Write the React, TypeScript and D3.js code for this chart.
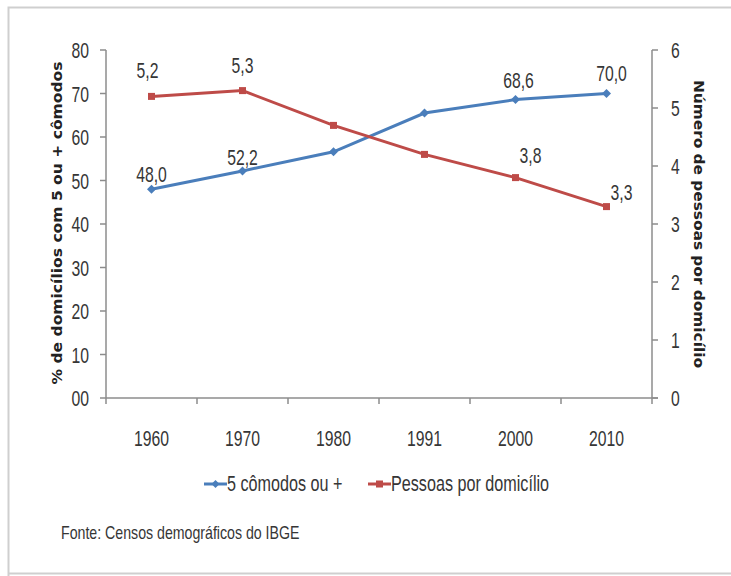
import React from "react";
import * as d3 from "d3";

const years = ["1960", "1970", "1980", "1991", "2000", "2010"];
const comodos = [48.0, 52.2, 56.6, 65.5, 68.6, 70.0];
const pessoas = [5.2, 5.3, 4.7, 4.2, 3.8, 3.3];
const comodosLabels = ["48,0", "52,2", "", "", "68,6", "70,0"];
const pessoasLabels = ["5,2", "5,3", "", "", "3,8", "3,3"];
const leftTicks = [0, 10, 20, 30, 40, 50, 60, 70, 80];
const leftTickText = ["00", "10", "20", "30", "40", "50", "60", "70", "80"];
const rightTicks = [0, 1, 2, 3, 4, 5, 6];

const W = 731;
const H = 576;
const FONT = "'Liberation Sans', Arial, sans-serif";
const TITLE_FONT = "'DejaVu Sans', Verdana, sans-serif";
const BLUE = "#4a7ebb";
const RED = "#be4b48";
const AXIS = "#8c8c8c";
const INK = "#363636";

// label placement relative to each point (dx, dy)
const comodosOffsets: [number, number][] = [
  [0, -7], [0, -6], [0, 0], [0, 0], [3, -12], [5, -13],
];
const pessoasOffsets: [number, number][] = [
  [-4, -18], [0, -18], [0, 0], [0, 0], [15, -15], [15, -7],
];

type TProps = {
  x: number;
  y: number;
  size?: number;
  sx?: number;
  anchor?: "start" | "middle" | "end";
  children: React.ReactNode;
};

// condensed text: horizontal squeeze around the anchor point
function T({ x, y, size = 22.5, sx = 0.7, anchor = "middle", children }: TProps) {
  return (
    <text
      transform={`translate(${x},${y}) scale(${sx},1)`}
      textAnchor={anchor}
      fontSize={size}
      fill={INK}
      fontFamily={FONT}
    >
      {children}
    </text>
  );
}

export default function App() {
  const x = d3.scaleBand<string>().domain(years).range([106, 652]);
  const yL = d3.scaleLinear().domain([0, 80]).range([398, 50]);
  const yR = d3.scaleLinear().domain([0, 6]).range([398, 50]);
  const cx = (y: string) => (x(y) as number) + x.bandwidth() / 2;

  const lineL = d3
    .line<number>()
    .x((_, i) => cx(years[i]))
    .y((d) => yL(d));
  const lineR = d3
    .line<number>()
    .x((_, i) => cx(years[i]))
    .y((d) => yR(d));

  const boundaries = [...years.map((y) => x(y) as number), 652];

  return (
    <svg
      width={W}
      height={H}
      style={{ position: "absolute", left: 0, top: 0 }}
    >
      <rect x={0} y={0} width={W} height={H} fill="#fff" />
      {/* outer frame */}
      <path d={`M8.5,${H} V7.5 H${W}`} fill="none" stroke="#cfcfcf" strokeWidth={2} />
      <line x1={8} x2={W} y1={573.5} y2={573.5} stroke="#cfcfcf" strokeWidth={2} />

      {/* left axis */}
      <line x1={106} x2={106} y1={50} y2={398} stroke={AXIS} strokeWidth={1.5} />
      {leftTicks.map((t, i) => (
        <g key={t}>
          <line x1={100} x2={106} y1={yL(t)} y2={yL(t)} stroke={AXIS} strokeWidth={1.5} />
          <T x={89} y={yL(t) + 8} anchor="end">
            {leftTickText[i]}
          </T>
        </g>
      ))}

      {/* right axis */}
      <line x1={652} x2={652} y1={50} y2={398} stroke={AXIS} strokeWidth={1.5} />
      {rightTicks.map((t) => (
        <g key={t}>
          <line x1={652} x2={658} y1={yR(t)} y2={yR(t)} stroke={AXIS} strokeWidth={1.5} />
          <T x={671} y={yR(t) + 8} anchor="start">
            {t}
          </T>
        </g>
      ))}

      {/* category axis */}
      <line x1={106} x2={658} y1={398} y2={398} stroke={AXIS} strokeWidth={1.5} />
      {boundaries.map((b, i) => (
        <line key={i} x1={b} x2={b} y1={398} y2={404} stroke={AXIS} strokeWidth={1.5} />
      ))}
      {years.map((y) => (
        <T key={y} x={cx(y)} y={446}>
          {y}
        </T>
      ))}

      {/* axis titles */}
      <text
        transform={`translate(62,223) rotate(-90)`}
        textAnchor="middle"
        fontSize={14.5}
        fontWeight="bold"
        fill="#222"
        fontFamily={TITLE_FONT}
        textLength={323}
        lengthAdjust="spacingAndGlyphs"
      >
        % de domicílios com 5 ou + cômodos
      </text>
      <text
        transform={`translate(694,224) rotate(90)`}
        textAnchor="middle"
        fontSize={14.5}
        fontWeight="bold"
        fill="#222"
        fontFamily={TITLE_FONT}
        textLength={288}
        lengthAdjust="spacingAndGlyphs"
      >
        Número de pessoas por domicílio
      </text>

      {/* series */}
      <path d={lineL(comodos) as string} fill="none" stroke={BLUE} strokeWidth={3} />
      <path d={lineR(pessoas) as string} fill="none" stroke={RED} strokeWidth={3} />
      {comodos.map((v, i) => {
        const px = cx(years[i]);
        const py = yL(v);
        return (
          <path
            key={"b" + i}
            d={`M${px},${py - 4.5} L${px + 4.5},${py} L${px},${py + 4.5} L${px - 4.5},${py} Z`}
            fill={BLUE}
          />
        );
      })}
      {pessoas.map((v, i) => (
        <rect
          key={"r" + i}
          x={cx(years[i]) - 3.5}
          y={yR(v) - 3.5}
          width={7}
          height={7}
          fill={RED}
        />
      ))}

      {/* data labels */}
      {comodos.map((v, i) =>
        comodosLabels[i] ? (
          <T
            key={"lb" + i}
            x={cx(years[i]) + comodosOffsets[i][0]}
            y={yL(v) + comodosOffsets[i][1]}
          >
            {comodosLabels[i]}
          </T>
        ) : null
      )}
      {pessoas.map((v, i) =>
        pessoasLabels[i] ? (
          <T
            key={"lr" + i}
            x={cx(years[i]) + pessoasOffsets[i][0]}
            y={yR(v) + pessoasOffsets[i][1]}
          >
            {pessoasLabels[i]}
          </T>
        ) : null
      )}

      {/* legend */}
      <line x1={204} x2={227} y1={484} y2={484} stroke={BLUE} strokeWidth={3} />
      <path d="M215.5,480 L219.5,484 L215.5,488 L211.5,484 Z" fill={BLUE} />
      <T x={227} y={491} anchor="start" size={22} sx={0.735}>
        5 cômodos ou +
      </T>
      <line x1={368} x2={391} y1={484} y2={484} stroke={RED} strokeWidth={3} />
      <rect x={376} y={480.5} width={7} height={7} fill={RED} />
      <T x={391} y={491} anchor="start" size={22} sx={0.735}>
        Pessoas por domicílio
      </T>

      {/* source note */}
      <T x={61} y={539} anchor="start" size={17.5} sx={0.81}>
        Fonte: Censos demográficos do IBGE
      </T>
    </svg>
  );
}
